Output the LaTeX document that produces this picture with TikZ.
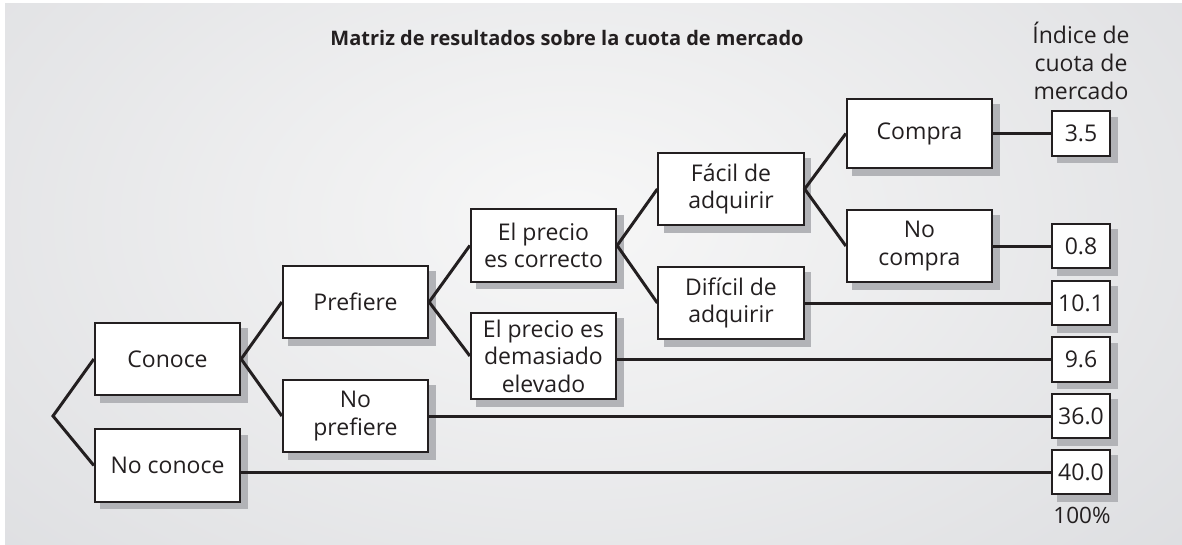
\documentclass[tikz,border=0pt]{standalone}
\usepackage{fontspec}
\setmainfont{Open Sans}
\definecolor{bgedge}{RGB}{219,220,223}
\definecolor{bgcenter}{RGB}{247,247,247}
\definecolor{shadowgray}{RGB}{178,179,183}
\definecolor{ink}{RGB}{35,31,32}
\pgfdeclarelayer{back}
\pgfdeclarelayer{shad}
\pgfsetlayers{back,shad,main}
\begin{document}
\begin{tikzpicture}[x=1pt,y=-1pt,
  box/.style={draw=ink, line width=1.8pt, fill=white, minimum width=145.5pt,
    minimum height=72.5pt, inner sep=0pt, align=center,
    font=\fontsize{23}{27.5}\selectfont, text=ink},
  numbox/.style={box, minimum width=58.5pt, minimum height=44.5pt},
  conn/.style={draw=ink, line width=3pt},
  lbl/.style={text=ink, inner sep=0pt, align=center},
  shadowbox/.style={fill=shadowgray}]
\useasboundingbox (0,0) rectangle (1182,544);
% background
\begin{pgfonlayer}{back}
\fill[bgedge] (5,3) rectangle (1182,544);
\begin{scope}
  \clip (5,3) rectangle (1182,544);
  \shade[inner color=bgcenter, outer color=bgedge] (570,220) ellipse (900 and 560);
\end{scope}
\end{pgfonlayer}
% title and header
\node[lbl, font=\bfseries\fontsize{20}{24}\selectfont] (title) at (567,38)
  {Matriz de resultados sobre la cuota de mercado};
\node[lbl, font=\fontsize{23}{28}\selectfont] (hdr) at (1081,61)
  {Índice de\\cuota de\\mercado};
% decision boxes
\node[box] (conoce) at (167.5,359) {Conoce};
\node[box] (noconoce) at (167.5,465.5) {No conoce};
\node[box] (prefiere) at (355.5,302) {Prefiere};
\node[box] (noprefiere) at (355.5,416) {No\\prefiere};
\node[box] (correcto) at (543.5,245.5) {El precio\\es correcto};
\node[box, minimum height=86.5pt] (elevado) at (543.5,356) {El precio es\\demasiado\\elevado};
\node[box] (facil) at (731,189) {Fácil de\\adquirir};
\node[box] (dificil) at (731,303) {Difícil de\\adquirir};
\node[box, minimum height=69.5pt] (compra) at (919.5,133.5) {Compra};
\node[box] (nocompra) at (919.5,246) {No\\compra};
% result boxes
\node[numbox] (n35) at (1081,133.5) {3.5};
\node[numbox] (n08) at (1081,246) {0.8};
\node[numbox] (n101) at (1081,303) {10.1};
\node[numbox] (n96) at (1081,359.5) {9.6};
\node[numbox] (n360) at (1081,416) {36.0};
\node[numbox] (n400) at (1081,472) {40.0};
\node[lbl, font=\fontsize{22.5}{26}\selectfont] (pct) at (1082,515) {100\%};
% shadows
\begin{pgfonlayer}{shad}
\foreach \n in {conoce,noconoce,prefiere,noprefiere,correcto,elevado,facil,dificil,compra,nocompra,n35,n08,n101,n96,n360,n400}
  \fill[shadowbox] ([shift={(6.5pt,-6.5pt)}]\n.south west) rectangle ([shift={(6.5pt,-6.5pt)}]\n.north east);
\end{pgfonlayer}
% connectors
\coordinate (root) at (53,416);
\draw[conn, line join=miter] (conoce.west) -- (root) -- (noconoce.west);
\draw[conn] (prefiere.west) -- (conoce.east) -- (noprefiere.west);
\draw[conn] (correcto.west) -- (prefiere.east) -- (elevado.west);
\draw[conn] (facil.west) -- (correcto.east) -- (dificil.west);
\draw[conn] (compra.west) -- (facil.east) -- (nocompra.west);
\draw[conn] (compra.east |- n35.west) -- (n35.west);
\draw[conn] (nocompra.east |- n08.west) -- (n08.west);
\draw[conn] (dificil.east |- n101.west) -- (n101.west);
\draw[conn] (elevado.east |- n96.west) -- (n96.west);
\draw[conn] (noprefiere.east |- n360.west) -- (n360.west);
\draw[conn] (noconoce.east |- n400.west) -- (n400.west);
\end{tikzpicture}
\end{document}
